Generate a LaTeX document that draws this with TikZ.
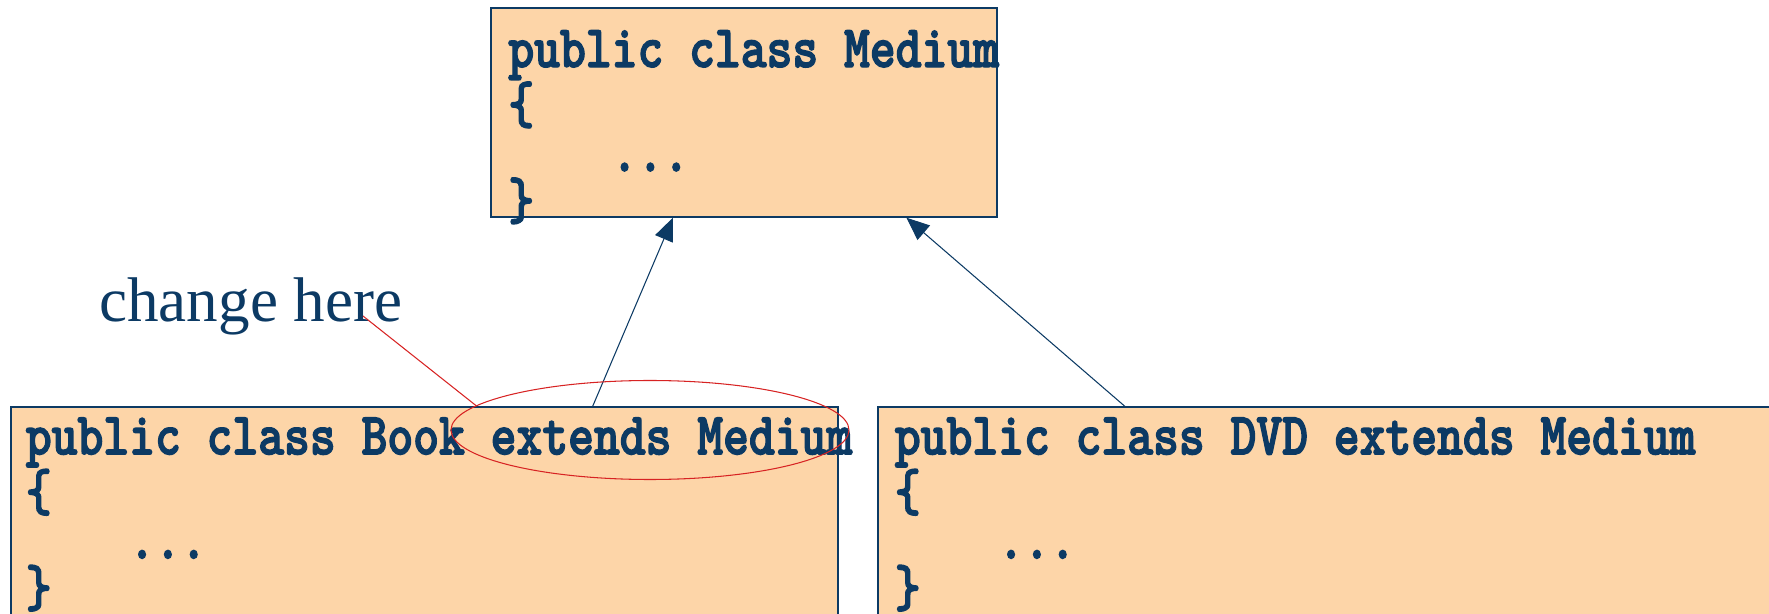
\documentclass[tikz,border=0pt]{standalone}
\usepackage{fontspec}
\setmainfont{Liberation Serif}
\newfontfamily\codefont[FakeStretch=0.82, FakeBold=2.2]{lmmonolt10-bold.otf}
\usepackage{tikz}
\usetikzlibrary{positioning,arrows.meta,shapes.geometric,calc}
\definecolor{navy}{RGB}{12,58,100}
\definecolor{peach}{RGB}{253,213,168}
\definecolor{markred}{RGB}{215,35,35}

\begin{document}
\begin{tikzpicture}[
		classbox/.style={draw=navy, fill=peach, rectangle, line width=0.8pt,
				minimum height=4.18cm, inner sep=0pt},
		code/.style={anchor=north west, inner sep=0pt, align=left, text=navy,
				font=\codefont\fontsize{34.14pt}{27.3pt}\selectfont},
		note/.style={anchor=base west, inner sep=0pt, text=navy,
				font=\fontsize{35.9pt}{40pt}\selectfont},
		ring/.style={draw=markred, ellipse, line width=0.6pt, inner sep=0pt},
		ar/.style={-{Triangle[length=0.46cm, width=0.38cm]}, draw=navy, line width=0.6pt},
	]
	\useasboundingbox (0,0) rectangle (35.38,-12.28);
	\clip (0,0) rectangle (35.38,-12.28);
	% class boxes
	\node[classbox, minimum width=10.12cm] (medium) at (14.88,-2.25) {};
	\node[classbox, minimum width=16.54cm, minimum height=6cm] (book) at (8.49,-11.14) {};
	\node[classbox, minimum width=18.94cm, minimum height=6cm] (dvd) at (27.03,-11.14) {};
	\node[code] (mediumtxt) at (10.16,-0.60)
	{public class Medium\\\{\\\phantom{xxxx}...\\\}};
	\node[code] (booktxt) at (0.51,-8.346)
	{public class Book extends Medium\\\{\\\phantom{xxxx}...\\\}};
	\node[code] (dvdtxt) at (17.89,-8.346)
	{public class DVD extends Medium\\\{\\\phantom{xxxx}...\\\}};
	% inheritance
	\draw[ar] ($(book.north west)!0.703!(book.north east)$) -- ($(medium.south west)!0.36!(medium.south east)$);
	\draw[ar] ($(dvd.north west)!0.261!(dvd.north east)$) -- ($(medium.south west)!0.82!(medium.south east)$);
	% remark
	\node[note] (note) at (1.98,-6.44) {change here};
	\node[ring, minimum width=7.96cm, minimum height=1.98cm] (extmark) at (13.0,-8.6) {};
	\coordinate (hint) at (7.26,-6.32);
	\draw[markred, line width=0.6pt] (hint) -- (extmark.172);
\end{tikzpicture}
\end{document}
